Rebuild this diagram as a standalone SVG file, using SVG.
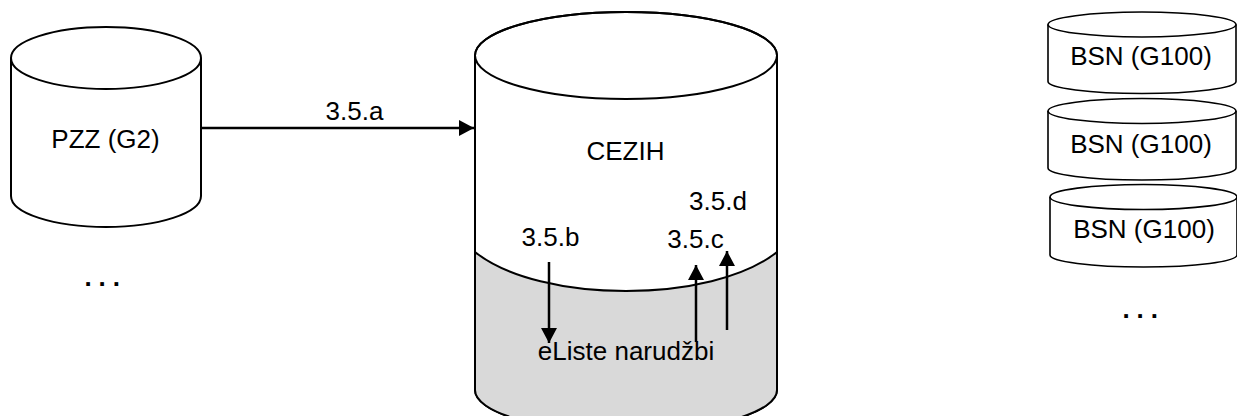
<svg xmlns="http://www.w3.org/2000/svg" width="1237" height="416" viewBox="0 0 1237 416">
<style>
.cyl{fill:#ffffff;stroke:#000000;stroke-width:2}
.cylt{fill:none;stroke:#000000;stroke-width:2}
.bsn{fill:#ffffff;stroke:#000000;stroke-width:1.6}
.bsnt{fill:none;stroke:#000000;stroke-width:1.6}
.gray{fill:#d9d9d9;stroke:none}
.lbl{font-family:"Liberation Sans",Arial,sans-serif;font-size:26px;fill:#000000;text-anchor:middle}
.dots{font-family:"Liberation Sans",Arial,sans-serif;font-size:26px;font-weight:bold;fill:#000000;letter-spacing:6.8px}
.conn{fill:none;stroke:#000000;stroke-width:2.5}
</style>
<defs>
<marker id="arr" markerUnits="userSpaceOnUse" markerWidth="18" markerHeight="18" refX="15" refY="8" orient="auto">
<path d="M0,0 L15,8 L0,16 Z" fill="#000000"/>
</marker>
</defs>
<g id="pzz">
<path class="cyl" d="M11,58 A95,31 0 0,1 201,58 L201,196 A95,31 0 0,1 11,196 Z"/>
<path class="cylt" d="M11,58 A95,31 0 0,0 201,58"/>
<text class="lbl" x="105.5" y="148">PZZ (G2)</text>
</g>
<g id="pzz-more">
<text class="dots" x="84.6" y="286">...</text>
</g>
<g id="cezih">
<path class="cyl" d="M475,55.5 A151,43.5 0 0,1 777,55.5 L777,390 A151,42 0 0,1 475,390 Z"/>
<path class="gray" d="M475,252 C540,304 712,304 777,252 L777,390 A151,42 0 0,1 475,390 Z"/>
<path class="cylt" d="M475,252 C540,304 712,304 777,252"/>
<path class="cylt" d="M475,55.5 A151,43.5 0 0,1 777,55.5 L777,390 A151,42 0 0,1 475,390 Z"/>
<path class="cylt" d="M475,55.5 A151,43.5 0 0,0 777,55.5"/>
<text class="lbl" x="625.5" y="160">CEZIH</text>
<text class="lbl" x="626" y="360">eListe narudžbi</text>
</g>
<g id="bsn1">
<path class="bsn" d="M1048,24.5 A94,12.5 0 0,1 1236,24.5 L1236,81.5 A94,12 0 0,1 1048,81.5 Z"/>
<path class="bsnt" d="M1048,24.5 A94,12.5 0 0,0 1236,24.5"/>
<text class="lbl" x="1141" y="65">BSN (G100)</text>
</g>
<g id="bsn2">
<path class="bsn" d="M1048,111 A94,12.5 0 0,1 1236,111 L1236,168 A94,12 0 0,1 1048,168 Z"/>
<path class="bsnt" d="M1048,111 A94,12.5 0 0,0 1236,111"/>
<text class="lbl" x="1141" y="153">BSN (G100)</text>
</g>
<g id="bsn3">
<path class="bsn" d="M1050,197 A93.5,12.5 0 0,1 1237,197 L1237,255 A93.5,12 0 0,1 1050,255 Z"/>
<path class="bsnt" d="M1050,197 A93.5,12.5 0 0,0 1237,197"/>
<text class="lbl" x="1144" y="238">BSN (G100)</text>
</g>
<g id="bsn-more">
<text class="dots" x="1122.6" y="318">...</text>
</g>
<g id="connectors">
<line class="conn" x1="201" y1="128" x2="474" y2="128" marker-end="url(#arr)"/>
<text class="lbl" x="354.5" y="120">3.5.a</text>
<line class="conn" x1="549" y1="262" x2="549" y2="343" marker-end="url(#arr)"/>
<text class="lbl" x="550.5" y="246">3.5.b</text>
<line class="conn" x1="696" y1="342" x2="696" y2="265" marker-end="url(#arr)"/>
<text class="lbl" x="695.5" y="248">3.5.c</text>
<line class="conn" x1="727" y1="330" x2="727" y2="251" marker-end="url(#arr)"/>
<text class="lbl" x="718" y="210">3.5.d</text>
</g>
</svg>
